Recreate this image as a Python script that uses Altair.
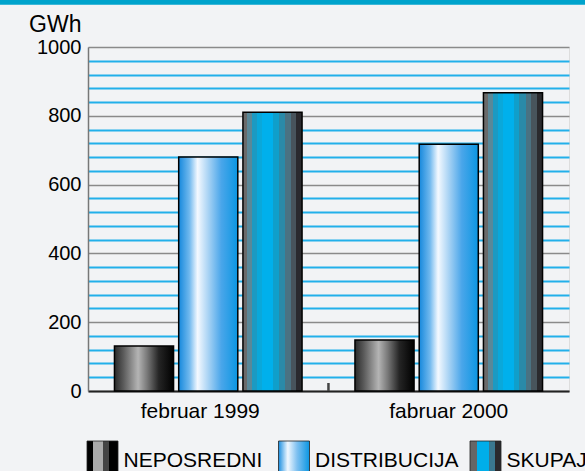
import altair as alt
import pandas as pd

months = ["februar 1999", "fabruar 2000"]
series = ["NEPOSREDNI", "DISTRIBUCIJA", "SKUPAJ"]
neposredni = [131, 148]
distribucija = [680, 717]
skupaj = [810, 867]

rows = []
for i, m in enumerate(months):
    for s, vals in zip(series, [neposredni, distribucija, skupaj]):
        rows.append({"month": m, "series": s, "value": vals[i]})
df = pd.DataFrame(rows)
legend_df = pd.DataFrame({"series": series})
one_df = pd.DataFrame({"a": [0]})
tick_df = pd.DataFrame({"month": [months[1]]})


def grad(stops):
    return alt.Gradient(
        gradient="linear", x1=0, x2=1, y1=0, y2=0,
        stops=[alt.GradientStop(color=c, offset=o) for o, c in stops],
    )


bar_grads = {
    "NEPOSREDNI": grad([(0, "#2a2a2a"), (0.15, "#5a5a5a"), (0.4, "#b4b4b4"),
                        (0.55, "#7a7a7a"), (0.75, "#252525"), (1, "#000000")]),
    "DISTRIBUCIJA": grad([(0, "#1588dc"), (0.18, "#6fb8ee"), (0.32, "#f4f9ff"),
                          (0.5, "#a9d3f4"), (0.72, "#4aa6ea"), (1, "#0a96e2")]),
    "SKUPAJ": grad([(0, "#6a6a6a"), (0.07, "#6a6a6a"), (0.07, "#5a8898"), (0.16, "#5a8898"),
                    (0.16, "#1c9ac2"), (0.24, "#1c9ac2"), (0.24, "#0aa8da"), (0.33, "#0aa8da"),
                    (0.33, "#00b0ec"), (0.51, "#00b0ec"), (0.51, "#0f9fcb"), (0.61, "#0f9fcb"),
                    (0.61, "#2a8aa8"), (0.72, "#2a8aa8"), (0.72, "#4a7282"), (0.81, "#4a7282"),
                    (0.81, "#48545c"), (0.9, "#48545c"), (0.9, "#2a2a2e"), (1, "#2a2a2e")]),
}
legend_grads = {
    "NEPOSREDNI": grad([(0, "#000000"), (0.19, "#000000"), (0.19, "#aaaaaa"), (0.52, "#aaaaaa"),
                        (0.52, "#444444"), (0.71, "#444444"), (0.71, "#000000"), (1, "#000000")]),
    "DISTRIBUCIJA": grad([(0, "#1a8ee0"), (0.3, "#f0f8ff"), (0.6, "#7ec0f0"), (1, "#0a96e2")]),
    "SKUPAJ": grad([(0, "#666666"), (0.22, "#666666"), (0.22, "#00aeea"), (0.6, "#00aeea"),
                    (0.6, "#3a7890"), (0.82, "#3a7890"), (0.82, "#2a2a2e"), (1, "#2a2a2e")]),
}

x_enc = alt.X(
    "month:N", sort=months,
    scale=alt.Scale(domain=months, paddingInner=0.22, paddingOuter=0.11),
    axis=alt.Axis(
        title=None, labelFontSize=21, labelPadding=26, labelBaseline="alphabetic",
        ticks=False, tickSize=0, domainColor="#222222", domainWidth=2, labelAngle=0,
        labelColor="black", grid=False,
        labelOffset={"condition": {"test": "datum.value === 'februar 1999'", "value": -8}, "value": 0},
    ),
)
y_enc = alt.Y(
    "value:Q",
    scale=alt.Scale(domain=[0, 1000], nice=False),
    axis=alt.Axis(
        values=list(range(0, 1001, 40)), format="d",
        labelExpr="datum.value % 200 === 0 ? datum.label : ''",
        labelOverlap=False, labelFontSize=20, labelPadding=7, labelColor="black",
        ticks=False, domainColor="#777777", domainWidth=1.5,
        gridColor={"condition": {"test": "datum.value % 200 === 0", "value": "#8a8a8a"}, "value": "#22b0ea"},
        gridWidth={"condition": {"test": "datum.value % 200 === 0", "value": 1.6}, "value": 2},
        title="GWh", titleAngle=0, titleAlign="right", titleBaseline="alphabetic",
        titleX=-7, titleY=-16, titleFontSize=23, titleFontWeight="normal", titleColor="black",
    ),
)
xo_enc = alt.XOffset("series:N", sort=series,
                     scale=alt.Scale(domain=series, paddingInner=0.08, paddingOuter=0))

base = alt.Chart(df).encode(x=x_enc, y=y_enc, xOffset=xo_enc)
bar_layers = [
    base.transform_filter(alt.datum.series == s).mark_bar(
        color=bar_grads[s], stroke="black", strokeWidth=1.5
    )
    for s in series
]
sep_tick = alt.Chart(tick_df).mark_rule(color="#444444", strokeWidth=2.5, xOffset=-26.5).encode(
    x=alt.X("month:N", sort=months, bandPosition=0), y=alt.value(336), y2=alt.value(344)
)
bars = alt.layer(*bar_layers, sep_tick)

lx = alt.X("series:N", sort=series,
           scale=alt.Scale(type="band", domain=series, range=[-81.25, 493.25],
                           paddingInner=0, paddingOuter=0),
           axis=None)
legend_swatches = [
    alt.Chart(legend_df).transform_filter(alt.datum.series == s).mark_bar(
        color=legend_grads[s], width=31, stroke="#222222", strokeWidth=0.8
    ).encode(x=lx, y=alt.value(394), y2=alt.value(425))
    for s in series
]
legend_text = alt.Chart(legend_df).mark_text(
    align="left", baseline="alphabetic", dx=21, fontSize=21, color="black"
).encode(x=lx, y=alt.value(420), text="series:N")
legend = alt.layer(*legend_swatches, legend_text)

top_bar = alt.Chart(one_df).mark_rule(color="#00a3cc", strokeWidth=4.7).encode(
    x=alt.value(-88), x2=alt.value(497), y=alt.value(-44.6)
)

chart = alt.layer(bars, legend, top_bar).resolve_scale(
    x="independent"
).properties(
    width=481, height=344,
    padding={"left": 88, "top": 47, "right": 16, "bottom": 80},
    autosize=alt.AutoSizeParams(type="none"),
    background="#f2f3f5",
).configure_view(stroke=None).configure(font="Liberation Sans")

chart.save("out.html", embed_options={"renderer": "svg", "actions": False})
